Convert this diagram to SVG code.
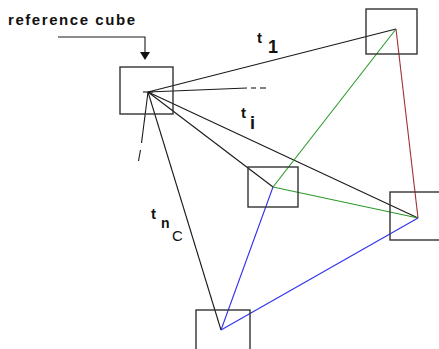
<svg xmlns="http://www.w3.org/2000/svg" width="439" height="349" viewBox="0 0 439 349">
<style>
.box{fill:none;stroke:#333;stroke-width:1.4}
.ln{fill:none;stroke-width:1.1}
.k{stroke:#1a1a1a}
.g{stroke:#2a9a2a}
.r{stroke:#a03030}
.b{stroke:#3030ee}
.lbl{font-family:"Liberation Sans",Arial,sans-serif;font-weight:bold;fill:#111}
</style>
<rect width="439" height="349" fill="#fff"/>
<g id="connectors">
<line class="ln k" x1="148" y1="92" x2="396" y2="29"/>
<line class="ln k" x1="148" y1="92" x2="247" y2="88"/>
<line class="ln k" x1="251" y1="88" x2="256" y2="88"/>
<line class="ln k" x1="260" y1="88" x2="266" y2="88"/>
<line class="ln k" x1="148" y1="92" x2="418" y2="218"/>
<line class="ln k" x1="148" y1="92" x2="273" y2="187"/>
<line class="ln k" x1="148" y1="92" x2="221" y2="330"/>
<line class="ln k" x1="148" y1="92" x2="141.5" y2="143"/>
<line class="ln k" x1="140.5" y1="150" x2="138.5" y2="161"/>
<line class="ln g" x1="396" y1="29" x2="273" y2="187"/>
<line class="ln g" x1="273" y1="187" x2="418" y2="218"/>
<line class="ln r" x1="396" y1="29" x2="418" y2="218"/>
<line class="ln b" x1="273" y1="187" x2="221" y2="330"/>
<line class="ln b" x1="221" y1="330" x2="418" y2="218"/>
<polyline class="ln k" points="58,37 145,37 145,52"/>
<polygon points="140,52 150,52 145,60" fill="#111"/>
</g>
<g id="reference-cube">
<rect class="box" x="120" y="67" width="53" height="47"/>
<line class="ln k" x1="143" y1="92" x2="153" y2="92"/>
</g>
<g id="cube-top-right"><rect class="box" x="366" y="9" width="51" height="45"/></g>
<g id="cube-middle"><rect class="box" x="248" y="167" width="50" height="40"/></g>
<g id="cube-right"><rect class="box" x="390" y="192" width="52" height="48"/></g>
<g id="cube-bottom"><rect class="box" x="196" y="310" width="54" height="45"/></g>
<g id="labels">
<text class="lbl" x="8" y="25" font-size="15" textLength="127" lengthAdjust="spacing">reference cube</text>
<text class="lbl" x="257" y="43" font-size="15">t</text>
<text class="lbl" x="268" y="53" font-size="18">1</text>
<text class="lbl" x="241" y="118" font-size="15">t</text>
<text class="lbl" x="250" y="129" font-size="18">i</text>
<text class="lbl" x="151" y="219" font-size="15">t</text>
<text class="lbl" x="161" y="228" font-size="14">n</text>
<text x="172" y="241" font-size="15" font-family="'Liberation Sans',Arial,sans-serif" fill="#111">C</text>
</g>
</svg>
